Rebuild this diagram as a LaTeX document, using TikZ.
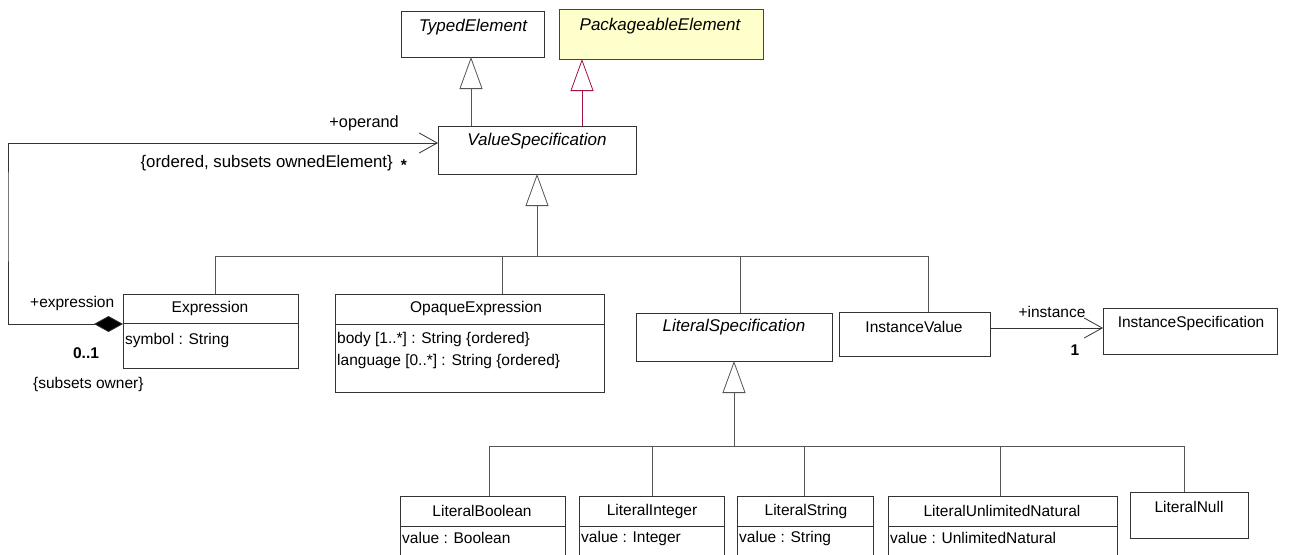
\documentclass[tikz,border=0pt]{standalone}
\usepackage{fontspec}
\setmainfont{Liberation Sans}
\usetikzlibrary{arrows.meta}
\definecolor{linec}{HTML}{333333}
\definecolor{genc}{HTML}{555555}
\definecolor{redc}{HTML}{A8123F}
\definecolor{yellowc}{HTML}{FFFFCC}
\begin{document}
\begin{tikzpicture}[x=1pt,y=-1pt,
  every node/.style={font=\fontsize{15.5}{17}\selectfont},
  cls/.style={draw=linec, line width=0.8pt, fill=white, anchor=north west, inner sep=0pt, outer sep=0pt},
  txt/.style={inner sep=0pt},
  abst/.style={inner sep=0pt, font=\fontsize{17}{19}\selectfont\itshape},
  mult/.style={inner sep=0pt, font=\fontsize{15.5}{17}\selectfont\bfseries},
  sep/.style={draw=linec, line width=0.8pt},
  gen/.style={draw=genc, line width=0.8pt, -{Triangle[open, fill=white, length=32pt, width=23pt]}},
  genred/.style={draw=redc, line width=0.8pt, -{Triangle[open, fill=white, length=32pt, width=23pt]}},
  tree/.style={draw=genc, line width=0.8pt},
  assoc/.style={draw=linec, line width=0.8pt, -{Straight Barb[length=18pt, width=20pt]}},
  comp/.style={draw=linec, line width=0.8pt, {Diamond[fill=black, length=29pt, width=16pt]}-{Straight Barb[length=18pt, width=20pt]}}
]
\useasboundingbox (0,0) rectangle (1295,554);
\fill[white] (0,0) rectangle (1295,554);

% --- top classes
\node[cls, minimum width=143pt, minimum height=46pt] (typed) at (401,11) {};
\node[abst] (typedT) at (473,27) {TypedElement};
\node[cls, draw=redc, fill=yellowc, minimum width=204pt, minimum height=50pt] (pkg) at (559,9) {};
\node[abst] (pkgT) at (660,26) {PackageableElement};
\node[cls, minimum width=198pt, minimum height=48pt] (valspec) at (438,126) {};
\node[abst] (valspecT) at (537,141) {ValueSpecification};

% --- Expression
\node[cls, minimum width=175pt, minimum height=74pt] (expr) at (123,294) {};
\draw[sep] (expr.west |- 0,323) -- (expr.east |- 0,323);
\node[txt] (exprT) at (210,308) {Expression};
\node[txt, anchor=west] (exprA) at (125,340) {symbol : String};

% --- OpaqueExpression
\node[cls, minimum width=269pt, minimum height=98pt] (opaque) at (335,294) {};
\draw[sep] (opaque.west |- 0,324) -- (opaque.east |- 0,324);
\node[txt] (opaqueT) at (476,308) {OpaqueExpression};
\node[txt, anchor=west] (opaqueA) at (337,339) {body [1..*] : String \{ordered\}};
\node[txt, anchor=west] (opaqueB) at (337,361) {language [0..*] : String \{ordered\}};

% --- LiteralSpecification
\node[cls, minimum width=196pt, minimum height=48pt] (lit) at (636,313) {};
\node[abst] (litT) at (734,327) {LiteralSpecification};

% --- InstanceValue / InstanceSpecification
\node[cls, minimum width=151pt, minimum height=44pt] (inst) at (839,312) {};
\node[txt] (instT) at (914,327) {InstanceValue};
\node[cls, minimum width=174pt, minimum height=46pt] (ispec) at (1103,308) {};
\node[txt] (ispecT) at (1191,323) {InstanceSpecification};

% --- bottom literals
\node[cls, minimum width=165pt, minimum height=70pt] (lb) at (400,496) {};
\draw[sep] (lb.west |- 0,526) -- (lb.east |- 0,526);
\node[txt] (lbT) at (482,511) {LiteralBoolean};
\node[txt, anchor=west] (lbA) at (402,538) {value : Boolean};

\node[cls, minimum width=145pt, minimum height=70pt] (li) at (579,496) {};
\draw[sep] (li.west |- 0,526) -- (li.east |- 0,526);
\node[txt] (liT) at (652,511) {LiteralInteger};
\node[txt, anchor=west] (liA) at (581,538) {value : Integer};

\node[cls, minimum width=136pt, minimum height=70pt] (ls) at (737,496) {};
\draw[sep] (ls.west |- 0,526) -- (ls.east |- 0,526);
\node[txt] (lsT) at (806,511) {LiteralString};
\node[txt, anchor=west] (lsA) at (739,538) {value : String};

\node[cls, minimum width=229pt, minimum height=70pt] (lun) at (888,496) {};
\draw[sep] (lun.west |- 0,526) -- (lun.east |- 0,526);
\node[txt] (lunT) at (1002,511) {LiteralUnlimitedNatural};
\node[txt, anchor=west] (lunA) at (890,538) {value : UnlimitedNatural};

\node[cls, minimum width=118pt, minimum height=46pt] (ln) at (1130,492) {};
\node[txt] (lnT) at (1189,507) {LiteralNull};

% --- generalizations (top)
\draw[gen] (valspec.north -| 471,0) -- (typed.south -| 471,0);
\draw[genred] ([xshift=45pt]valspec.north) -- ([xshift=45pt]valspec.north |- pkg.south);

% --- tree under ValueSpecification
\coordinate (j1) at (537,256);
\draw[gen] (j1) -- (valspec.south);
\draw[tree] ([xshift=4.5pt]expr.north) -- ([xshift=4.5pt]expr.north |- j1) -- ([xshift=13.5pt]inst.north |- j1) -- ([xshift=13.5pt]inst.north);
\draw[tree] ([xshift=32.5pt]opaque.north) -- ([xshift=32.5pt]opaque.north |- j1);
\draw[tree] ([xshift=6.5pt]lit.north) -- ([xshift=6.5pt]lit.north |- j1);

% --- tree under LiteralSpecification
\coordinate (j2) at (lit.south |- 0,446);
\draw[gen] (j2) -- (lit.south);
\draw[tree] ([xshift=6.5pt]lb.north) -- ([xshift=6.5pt]lb.north |- j2) -- ([xshift=-5pt]ln.north |- j2) -- ([xshift=-5pt]ln.north);
\draw[tree] ([xshift=0.5pt]li.north) -- ([xshift=0.5pt]li.north |- j2);
\draw[tree] ([xshift=-1pt]ls.north) -- ([xshift=-1pt]ls.north |- j2);
\draw[tree] ([xshift=-2.5pt]lun.north) -- ([xshift=-2.5pt]lun.north |- j2);

% --- operand / expression composition
\coordinate (lp) at (8,200);
\draw[comp] ([yshift=7pt]expr.west) -| (lp) |- ([yshift=7pt]valspec.west);
\node[txt, anchor=east, font=\fontsize{16.3}{18}\selectfont] (operandL) at (399,123) {+operand};
\node[txt, anchor=east, font=\fontsize{16.8}{18}\selectfont] (orderedL) at (393,163) {\{ordered, subsets ownedElement\}};
\node[mult] (starL) at (404,165) {*};
\node[txt, anchor=west] (exprL) at (30,303) {+expression};
\node[mult] (zeroL) at (86,353) {0..1};
\node[txt, anchor=west] (ownerL) at (33,384) {\{subsets owner\}};

% --- instance association
\draw[assoc] ([yshift=6pt]inst.east) -- ([yshift=6pt]inst.east -| ispec.west);
\node[txt] (instanceL) at (1052,312) {+instance};
\node[mult] (oneL) at (1075,350) {1};
\end{tikzpicture}
\end{document}
